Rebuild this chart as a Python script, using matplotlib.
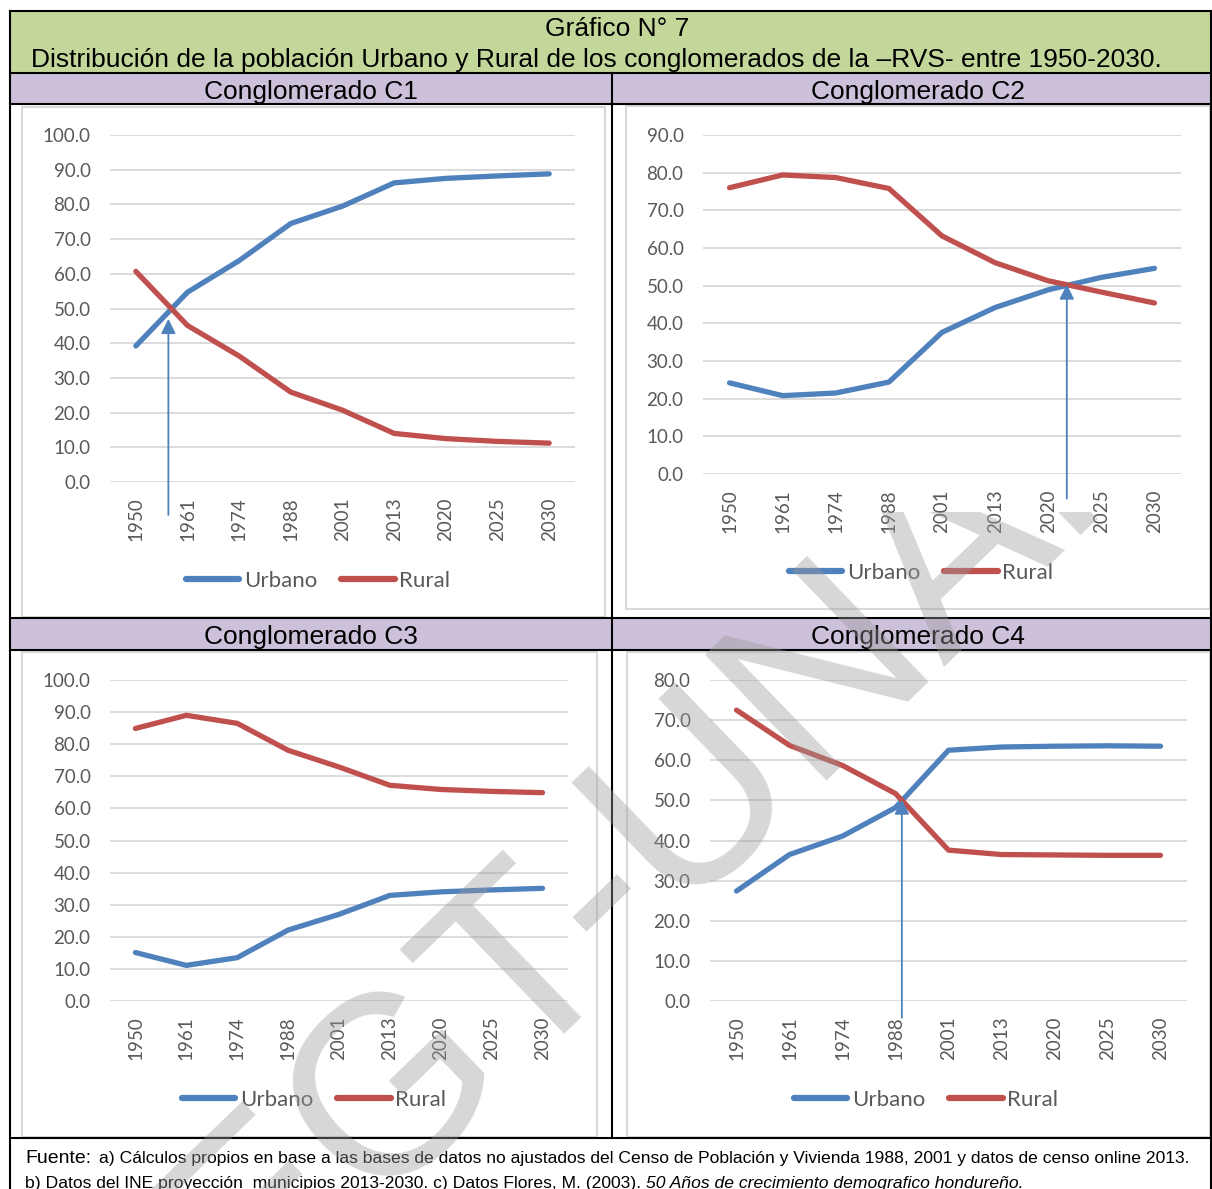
import matplotlib
matplotlib.use("Agg")
from matplotlib import pyplot as plt
from matplotlib.patches import Rectangle
import numpy as np

# datos
years = ["1950", "1961", "1974", "1988", "2001", "2013", "2020", "2025", "2030"]
c1_urbano = [39.2, 54.7, 63.8, 74.5, 79.5, 86.2, 87.5, 88.2, 88.8]
c1_rural = [60.7, 45.1, 36.3, 25.9, 20.7, 14.0, 12.5, 11.7, 11.2]
c2_urbano = [24.2, 20.8, 21.5, 24.4, 37.6, 44.2, 48.9, 52.2, 54.6]
c2_rural = [76.0, 79.4, 78.7, 75.8, 63.2, 56.1, 51.3, 48.3, 45.4]
c3_urbano = [15.1, 11.1, 13.5, 22.1, 27.0, 32.9, 34.0, 34.6, 35.1]
c3_rural = [84.9, 89.0, 86.5, 78.1, 72.9, 67.2, 65.9, 65.3, 64.9]
c4_urbano = [27.4, 36.5, 41.1, 48.2, 62.5, 63.3, 63.5, 63.6, 63.5]
c4_rural = [72.5, 63.7, 58.7, 51.7, 37.6, 36.5, 36.4, 36.3, 36.3]
titles = ["Conglomerado C1", "Conglomerado C2", "Conglomerado C3", "Conglomerado C4"]
ymax = [100, 90, 100, 80]
# flechas de cruce: (posicion x, desde y, hasta y)
arrows = {0: (0.63, -9.5, 47.0), 1: (6.35, -6.5, 50.3), 3: (3.12, -4.2, 50.2)}

W, H = 1212, 1189
BLUE = "#4F81BD"
RED = "#C0504D"
GREEN = "#C4D79B"
PURPLE = "#CCC0DA"
GRID = "#D9D9D9"
TXT = "#595959"

fig = plt.figure(figsize=(W / 100, H / 100), dpi=100)

def fx(x):
    return x / W

def fy(y):
    return 1 - y / H

def rect(x0, y0, x1, y1, **kw):
    fig.patches.append(Rectangle((fx(x0), fy(y1)), fx(x1) - fx(x0), fy(y0) - fy(y1),
                                 transform=fig.transFigure, figure=fig, zorder=-5, **kw))

def hline(y, x0, x1, c="black", lw=1.5):
    fig.add_artist(plt.Line2D([fx(x0), fx(x1)], [fy(y), fy(y)], color=c, lw=lw))

def vline(x, y0, y1, c="black", lw=1.5):
    fig.add_artist(plt.Line2D([fx(x), fx(x)], [fy(y0), fy(y1)], color=c, lw=lw))

# bandas de la tabla
rect(10, 11, 1212, 73, facecolor=GREEN, edgecolor="none")
rect(10, 73, 1212, 104, facecolor=PURPLE, edgecolor="none")
rect(10, 618, 1212, 650, facecolor=PURPLE, edgecolor="none")

# marcos grises de cada grafico
rect(22, 107, 605, 617, facecolor="white", edgecolor=GRID, lw=1.5)
rect(626, 106, 1210, 609, facecolor="white", edgecolor=GRID, lw=1.5)
rect(22, 652, 597, 1137, facecolor="white", edgecolor=GRID, lw=1.5)
rect(627, 652, 1210, 1137, facecolor="white", edgecolor=GRID, lw=1.5)

# lineas de la tabla
hline(11, 10, 1212)
hline(73, 10, 1212)
hline(104, 10, 1212)
hline(618, 10, 1212)
hline(650, 10, 1212)
hline(1138, 10, 1212)
vline(10, 11, 1189)
vline(1211, 11, 1189)
vline(612, 73, 1138)

hdr = dict(ha="center", va="center", fontsize=19, family="Liberation Sans")
fig.text(fx(617), fy(29), "Gráfico N° 7", **hdr)
fig.text(fx(596), fy(60), "Distribución de la población Urbano y Rural de los conglomerados de la \u2013RVS- entre 1950-2030.", **hdr)
fig.text(fx(311), fy(92), titles[0], **hdr)
fig.text(fx(918), fy(92), titles[1], **hdr)
fig.text(fx(311), fy(637), titles[2], **hdr)
fig.text(fx(918), fy(637), titles[3], **hdr)

# posiciones de los ejes (px): izq, der, arriba, abajo
boxes = [(110, 575, 135, 482), (703, 1181, 135, 474), (110, 568, 680, 1001), (710, 1187, 680, 1001)]
legend_pos = [(318, 581), (921, 573), (314, 1100), (926, 1100)]
series = [(c1_urbano, c1_rural), (c2_urbano, c2_rural), (c3_urbano, c3_rural), (c4_urbano, c4_rural)]

for i, (l, r, t, b) in enumerate(boxes):
    ax = fig.add_axes([fx(l), fy(b), fx(r) - fx(l), fy(t) - fy(b)])
    ax.patch.set_alpha(0)
    x = np.arange(len(years))
    urb, rur = series[i]
    ax.plot(x, urb, color=BLUE, lw=3.8, solid_capstyle="round", label="Urbano", zorder=3)
    ax.plot(x, rur, color=RED, lw=3.8, solid_capstyle="round", label="Rural", zorder=3)
    ax.set_xlim(-0.5, len(years) - 0.5)
    ax.set_ylim(0, ymax[i])
    ax.set_yticks(np.arange(0, ymax[i] + 1, 10))
    ax.set_yticklabels(["%.1f" % v for v in np.arange(0, ymax[i] + 1, 10)])
    ax.set_xticks(x)
    ax.set_xticklabels(years, rotation=90)
    ax.grid(axis="y", color=GRID, lw=1.3)
    ax.set_axisbelow(True)
    for s in ax.spines.values():
        s.set_visible(False)
    ax.tick_params(length=0, labelsize=13.5, labelcolor=TXT, pad=14)
    ax.tick_params(axis="x", pad=11)
    for lab in ax.get_xticklabels() + ax.get_yticklabels():
        lab.set_family("Lato")
    if i in arrows:
        ax_x, y0, y1 = arrows[i]
        ax.annotate("", xy=(ax_x, y1), xytext=(ax_x, y0), annotation_clip=False,
                    arrowprops=dict(arrowstyle="-|>", color=BLUE, lw=1.3, mutation_scale=22,
                                    shrinkA=0, shrinkB=0), zorder=4)
    lx, ly = legend_pos[i]
    leg = fig.legend(handles=ax.get_lines(), loc="center", bbox_to_anchor=(fx(lx), fy(ly)),
                     ncol=2, frameon=False, handlelength=2.4, handletextpad=0.2,
                     columnspacing=1.1, prop={"family": "Lato", "size": 16})
    for txt in leg.get_texts():
        txt.set_color(TXT)
    for ln in leg.get_lines():
        ln.set_linewidth(4.5)

# pie de tabla
fig.text(fx(25), fy(1163), "Fuente:", fontsize=14, family="Liberation Sans", va="baseline")
fig.text(fx(99), fy(1163), "a) Cálculos propios en base a las bases de datos no ajustados del Censo de Población y Vivienda 1988, 2001 y datos de censo online 2013.",
         fontsize=12.6, family="Liberation Sans", va="baseline")
t2 = fig.text(fx(25), fy(1188), "b) Datos del INE proyección  municipios 2013-2030. c) Datos Flores, M. (2003). ",
              fontsize=12.6, family="Liberation Sans", va="baseline")
fig.canvas.draw()
x_end = t2.get_window_extent().x1 / W
fig.text(x_end, fy(1188), "50 Años de crecimiento demografico hondureño.",
         fontsize=12.6, family="Liberation Sans", va="baseline", style="italic")

# marca de agua (recortada arriba como en el original)
wm = fig.text(fx(248), fy(1320), "EGT-UNAH", fontsize=183, family="Liberation Sans",
              color="#9a9a9a", alpha=0.4, rotation=44, rotation_mode="anchor",
              ha="left", va="baseline", zorder=10)
clip = Rectangle((0, 0), 1, fy(512), transform=fig.transFigure)
wm.set_clip_path(clip)

fig.savefig("out.png", dpi=100)
